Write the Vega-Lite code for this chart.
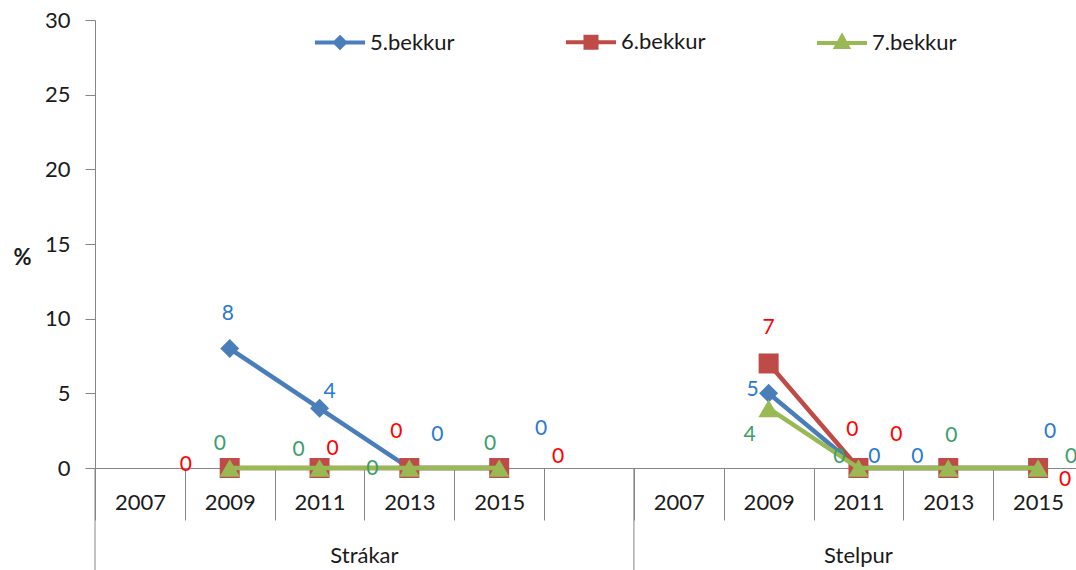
{
  "$schema": "https://vega.github.io/schema/vega-lite/v6.json",
  "width": 988,
  "height": 448,
  "autosize": {"type": "none"},
  "padding": {"left": 95, "top": 20, "right": 0, "bottom": 102},
  "background": "white",
  "config": {
    "view": {"stroke": null},
    "font": "Lato",
    "axis": {"grid": false}
  },
  "datasets": {
    "pts": [
      {"g": "Strákar", "x": "Strákar 2009", "s": "5.bekkur", "v": 8},
      {"g": "Strákar", "x": "Strákar 2011", "s": "5.bekkur", "v": 4},
      {"g": "Strákar", "x": "Strákar 2013", "s": "5.bekkur", "v": 0},
      {"g": "Strákar", "x": "Strákar 2015", "s": "5.bekkur", "v": 0},
      {"g": "Strákar", "x": "Strákar 2009", "s": "6.bekkur", "v": 0},
      {"g": "Strákar", "x": "Strákar 2011", "s": "6.bekkur", "v": 0},
      {"g": "Strákar", "x": "Strákar 2013", "s": "6.bekkur", "v": 0},
      {"g": "Strákar", "x": "Strákar 2015", "s": "6.bekkur", "v": 0},
      {"g": "Strákar", "x": "Strákar 2009", "s": "7.bekkur", "v": 0},
      {"g": "Strákar", "x": "Strákar 2011", "s": "7.bekkur", "v": 0},
      {"g": "Strákar", "x": "Strákar 2013", "s": "7.bekkur", "v": 0},
      {"g": "Strákar", "x": "Strákar 2015", "s": "7.bekkur", "v": 0},
      {"g": "Stelpur", "x": "Stelpur 2009", "s": "5.bekkur", "v": 5},
      {"g": "Stelpur", "x": "Stelpur 2011", "s": "5.bekkur", "v": 0},
      {"g": "Stelpur", "x": "Stelpur 2013", "s": "5.bekkur", "v": 0},
      {"g": "Stelpur", "x": "Stelpur 2015", "s": "5.bekkur", "v": 0},
      {"g": "Stelpur", "x": "Stelpur 2009", "s": "6.bekkur", "v": 7},
      {"g": "Stelpur", "x": "Stelpur 2011", "s": "6.bekkur", "v": 0},
      {"g": "Stelpur", "x": "Stelpur 2013", "s": "6.bekkur", "v": 0},
      {"g": "Stelpur", "x": "Stelpur 2015", "s": "6.bekkur", "v": 0},
      {"g": "Stelpur", "x": "Stelpur 2009", "s": "7.bekkur", "v": 4},
      {"g": "Stelpur", "x": "Stelpur 2011", "s": "7.bekkur", "v": 0},
      {"g": "Stelpur", "x": "Stelpur 2013", "s": "7.bekkur", "v": 0},
      {"g": "Stelpur", "x": "Stelpur 2015", "s": "7.bekkur", "v": 0}
    ]
  },
  "data": {"name": "pts"},
  "layer": [
    {
      "data": {"values": [{"x": "Strákar 2007"}, {"x": "Stelpur 2007"}]},
      "mark": {"type": "rule", "color": "#868686", "strokeWidth": 1},
      "encoding": {
        "x": {
          "field": "x", "type": "nominal", "bandPosition": 0,
          "scale": {"type": "band", "paddingInner": 0, "paddingOuter": 0, "domain": ["Strákar 2007", "Strákar 2009", "Strákar 2011", "Strákar 2013", "Strákar 2015", "Strákar", "Stelpur 2007", "Stelpur 2009", "Stelpur 2011", "Stelpur 2013", "Stelpur 2015"]},
          "axis": {
            "title": null, "labelAngle": 0,
            "labelExpr": "split(datum.value, ' ')[1] || ''",
            "domainColor": "#868686", "tickColor": "#868686",
            "tickBand": "extent", "tickSize": 52,
            "labelPadding": -18, "labelBaseline": "middle",
            "labelFont": "Lato", "labelFontSize": 22, "labelColor": "#1a1a1a"
          }
        },
        "y": {
          "datum": 0, "type": "quantitative",
          "scale": {"domain": [0, 30], "nice": false},
          "axis": {
            "title": "%", "titleAngle": 0, "titleFont": "Lato", "titleFontWeight": "bold", "titleFontSize": 22,
            "titleColor": "#1a1a1a", "titleAlign": "center", "titleBaseline": "middle",
            "titleX": -73, "titleY": 237,
            "values": [0, 5, 10, 15, 20, 25, 30],
            "tickSize": 10, "labelPadding": 15,
            "labelFont": "Lato", "labelFontSize": 22, "labelColor": "#1a1a1a",
            "domainColor": "#868686", "tickColor": "#868686"
          }
        },
        "y2": {"datum": -6.9}
      }
    },
    {
      "data": {"values": [{"g": "Strákar", "x": "Strákar 2013"}]},
      "mark": {"type": "text", "font": "Lato", "fontSize": 22, "color": "#1a1a1a", "align": "center", "baseline": "middle"},
      "encoding": {
        "x": {"field": "x", "type": "nominal", "bandPosition": 0},
        "y": {"datum": -5.9, "type": "quantitative"},
        "text": {"field": "g"}
      }
    },
    {
      "data": {"values": [{"g": "Stelpur", "x": "Stelpur 2011"}]},
      "mark": {"type": "text", "font": "Lato", "fontSize": 22, "color": "#1a1a1a", "align": "center", "baseline": "middle"},
      "encoding": {
        "x": {"field": "x", "type": "nominal", "bandPosition": 0.5},
        "y": {"datum": -5.9, "type": "quantitative"},
        "text": {"field": "g"}
      }
    },
    {
      "transform": [{"filter": "datum.s === '5.bekkur'"}],
      "mark": {"type": "line", "strokeWidth": 4.5, "point": {"filled": true, "shape": "diamond", "size": 360, "strokeWidth": 1}},
      "encoding": {
        "x": {"field": "x", "type": "nominal", "bandPosition": 0.5},
        "y": {"field": "v", "type": "quantitative"},
        "detail": {"field": "g"},
        "color": {
          "field": "s", "type": "nominal",
          "scale": {"domain": ["5.bekkur", "6.bekkur", "7.bekkur"], "range": ["#4A7EBB", "#BE4B48", "#98B954"]},
          "legend": {
            "orient": "none", "legendX": 218, "legendY": -5, "direction": "horizontal", "title": null,
            "padding": 0, "symbolSize": 2500, "symbolStrokeWidth": 4,
            "labelFont": "Lato", "labelFontSize": 22, "labelColor": "#1a1a1a", "labelOffset": 3,
            "columnPadding": 103,
            "encode": {
              "symbols": {
                "update": {
                  "shape": {"signal": "datum.value === '5.bekkur' ? 'M-1,0H1M0,-0.2L0.2,0L0,0.2L-0.2,0Z' : datum.value === '6.bekkur' ? 'M-1,0H1M-0.22,-0.22H0.22V0.22H-0.22Z' : 'M-1,0H1M0,-0.26L0.23,0.16H-0.23Z'"},
                  "fill": {"signal": "datum.value === '5.bekkur' ? '#4A7EBB' : datum.value === '6.bekkur' ? '#BE4B48' : '#98B954'"},
                  "stroke": {"signal": "datum.value === '5.bekkur' ? '#4A7EBB' : datum.value === '6.bekkur' ? '#BE4B48' : '#98B954'"},
                  "fillOpacity": {"value": 1},
                  "strokeWidth": {"value": 4}
                }
              }
            }
          }
        }
      }
    },
    {
      "transform": [{"filter": "datum.s === '6.bekkur'"}],
      "mark": {"type": "line", "strokeWidth": 4.5, "point": {"filled": true, "shape": "square", "size": 400, "strokeWidth": 1}},
      "encoding": {
        "x": {"field": "x", "type": "nominal", "bandPosition": 0.5},
        "y": {"field": "v", "type": "quantitative"},
        "detail": {"field": "g"},
        "color": {"field": "s", "type": "nominal"}
      }
    },
    {
      "transform": [{"filter": "datum.s === '7.bekkur'"}],
      "mark": {"type": "line", "strokeWidth": 4.5, "point": {"filled": true, "shape": "triangle-up", "size": 420, "strokeWidth": 1}},
      "encoding": {
        "x": {"field": "x", "type": "nominal", "bandPosition": 0.5},
        "y": {"field": "v", "type": "quantitative"},
        "detail": {"field": "g"},
        "color": {"field": "s", "type": "nominal"}
      }
    },
    {
      "mark": {
        "type": "text", "font": "Lato", "fontSize": 21, "align": "center", "baseline": "middle",
        "dx": {"expr": "({'5.bekkur|Strákar 2009': -2, '5.bekkur|Strákar 2011': 10, '5.bekkur|Strákar 2013': 28, '5.bekkur|Strákar 2015': 42, '6.bekkur|Strákar 2009': -44, '6.bekkur|Strákar 2011': 13, '6.bekkur|Strákar 2013': -13, '6.bekkur|Strákar 2015': 59, '7.bekkur|Strákar 2009': -10, '7.bekkur|Strákar 2011': -21, '7.bekkur|Strákar 2013': -37, '7.bekkur|Strákar 2015': -9, '5.bekkur|Stelpur 2009': -16, '5.bekkur|Stelpur 2011': 16, '5.bekkur|Stelpur 2013': -31, '5.bekkur|Stelpur 2015': 12, '6.bekkur|Stelpur 2009': 0, '6.bekkur|Stelpur 2011': -6, '6.bekkur|Stelpur 2013': -52, '6.bekkur|Stelpur 2015': 27, '7.bekkur|Stelpur 2009': -19, '7.bekkur|Stelpur 2011': -19, '7.bekkur|Stelpur 2013': 3, '7.bekkur|Stelpur 2015': 33})[datum.s + '|' + datum.x]"},
        "dy": {"expr": "({'5.bekkur|Strákar 2009': -35, '5.bekkur|Strákar 2011': -16, '5.bekkur|Strákar 2013': -33, '5.bekkur|Strákar 2015': -39, '6.bekkur|Strákar 2009': -3, '6.bekkur|Strákar 2011': -19, '6.bekkur|Strákar 2013': -36, '6.bekkur|Strákar 2015': -11, '7.bekkur|Strákar 2009': -24, '7.bekkur|Strákar 2011': -18, '7.bekkur|Strákar 2013': 1, '7.bekkur|Strákar 2015': -24, '5.bekkur|Stelpur 2009': -3, '5.bekkur|Stelpur 2011': -11, '5.bekkur|Stelpur 2013': -11, '5.bekkur|Stelpur 2015': -36, '6.bekkur|Stelpur 2009': -35, '6.bekkur|Stelpur 2011': -38, '6.bekkur|Stelpur 2013': -33, '6.bekkur|Stelpur 2015': 12, '7.bekkur|Stelpur 2009': 27, '7.bekkur|Stelpur 2011': -11, '7.bekkur|Stelpur 2013': -32, '7.bekkur|Stelpur 2015': -11})[datum.s + '|' + datum.x]"}
      },
      "encoding": {
        "x": {"field": "x", "type": "nominal", "bandPosition": 0.5},
        "y": {"field": "v", "type": "quantitative"},
        "text": {"field": "v", "type": "quantitative"},
        "fill": {
          "field": "s", "type": "nominal",
          "scale": {"domain": ["5.bekkur", "6.bekkur", "7.bekkur"], "range": ["#2A78D2", "#FF0000", "#3C9E6C"]},
          "legend": null
        }
      }
    }
  ]
}
